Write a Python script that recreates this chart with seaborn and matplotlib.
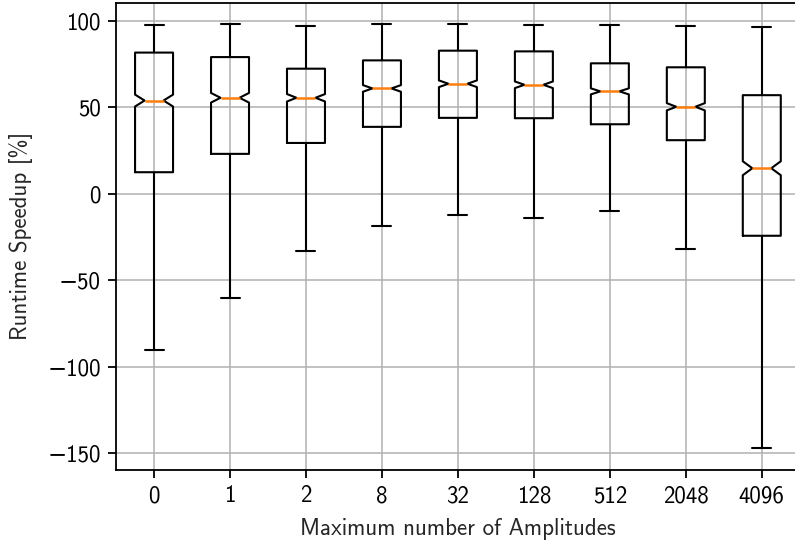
import matplotlib
matplotlib.use("Agg")
import matplotlib.pyplot as plt
import numpy as np
import pandas as pd
import seaborn as sns

# five-number summaries (runtime speedup in %)
amplitudes = ['0', '1', '2', '8', '32', '128', '512', '2048', '4096']
mins    = [-90.3, -60.2, -33.0, -18.5, -12.2, -14.0, -10.0, -31.8, -147.0]
q1s     = [12.4, 23.0, 29.3, 38.6, 43.8, 43.6, 40.1, 30.9, -24.3]
medians = [53.8, 55.4, 55.4, 60.8, 63.5, 62.9, 59.1, 50.2, 14.7]
q3s     = [81.5, 78.9, 72.2, 77.0, 82.6, 82.2, 75.3, 73.0, 56.9]
maxs    = [97.3, 97.9, 96.9, 98.0, 97.9, 97.5, 97.3, 96.9, 96.1]
n_runs = 1000  # approx. number of runs per setting (sets notch size)

# rebuild a sample per setting that has exactly these quartiles
m = (n_runs - 2) // 3
rows = []
for amp, lo, a, md, b, hi in zip(amplitudes, mins, q1s, medians, q3s, maxs):
    vals = np.repeat([lo, a, md, b, hi], [1, m, m, m, 1])
    rows.append(pd.DataFrame({'amps': amp, 'speedup': vals}))
df = pd.concat(rows, ignore_index=True)

sns.set_style('ticks')
fs = 16.5
plt.rcParams.update({'font.family': ['cmss10', 'DejaVu Sans'],
                     'font.size': fs,
                     'axes.unicode_minus': True,
                     'axes.formatter.use_mathtext': False,
                     'axes.linewidth': 1.3,
                     'axes.edgecolor': 'black',
                     'xtick.color': 'black',
                     'ytick.color': 'black',
                     'xtick.labelsize': fs,
                     'ytick.labelsize': fs,
                     'xtick.major.size': 6,
                     'ytick.major.size': 6,
                     'xtick.major.width': 1.3,
                     'ytick.major.width': 1.3,
                     'xtick.major.pad': 5,
                     'ytick.major.pad': 5,
                     'axes.labelsize': fs})

fig, ax = plt.subplots(figsize=(7.95, 5.44), dpi=100)
fig.subplots_adjust(left=0.146, right=1.006, bottom=0.136, top=0.995)

sns.boxplot(data=df, x='amps', y='speedup', order=amplitudes, ax=ax,
            notch=True, whis=(0, 100), width=0.5, fill=False, color='black',
            linewidth=1.5, showfliers=False,
            medianprops={'color': '#ff7f0e', 'linewidth': 1.8})

ax.grid(True, color='#b0b0b0', linewidth=1.1)
ax.set_axisbelow(True)
ax.set_ylim(-159.6, 110.3)
ax.set_xlim(-0.5, 8.5)
ax.set_xlabel('Maximum number of Amplitudes', labelpad=8)
ax.set_ylabel('Runtime Speedup [%]', labelpad=10)

fig.savefig('out.png', dpi=100)
